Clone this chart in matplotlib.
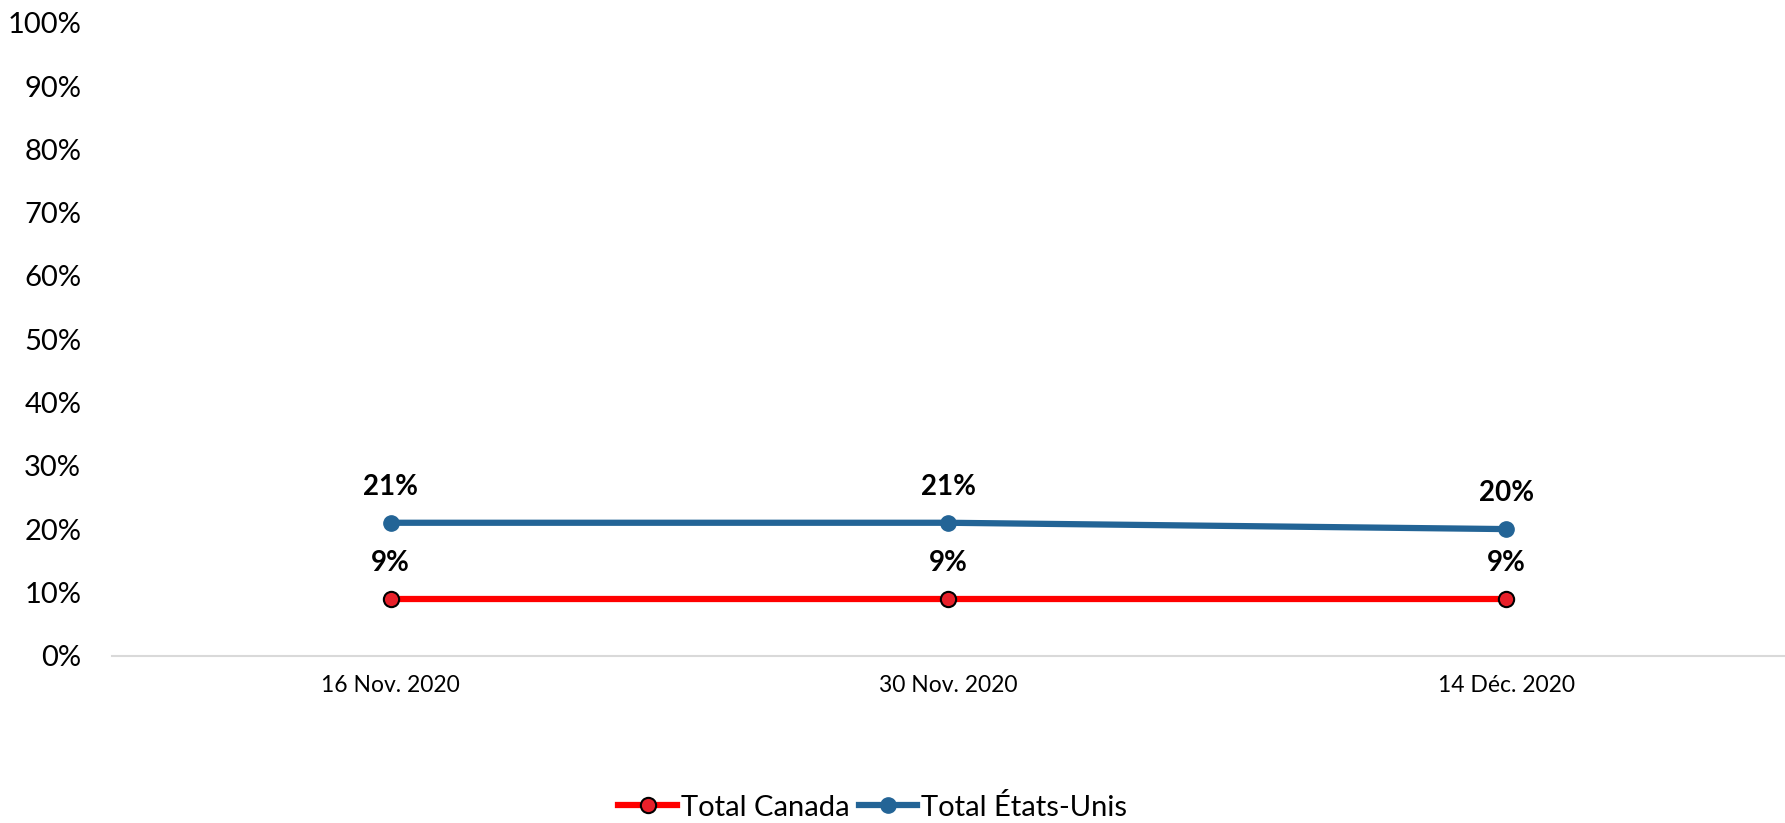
import numpy as np
import matplotlib
matplotlib.use('Agg')
import matplotlib.pyplot as plt
from matplotlib.ticker import FuncFormatter

plt.rcParams['font.family'] = ['Lato', 'DejaVu Sans']

# data
dates = ['16 Nov. 2020', '30 Nov. 2020', '14 Déc. 2020']
canada = [9, 9, 9]
etats_unis = [21, 21, 20]

RED = '#FF0000'
BLUE = '#236496'

fig = plt.figure(figsize=(17.85, 8.23), dpi=100)
ax = fig.add_axes([0.0626, 0.2033, 0.9374, 0.7691])

x = np.arange(len(dates))
ax.plot(x, canada, color=RED, lw=4.5, marker='o', ms=11,
        mfc='#E8202A', mec='black', mew=1.5, label='Total Canada', zorder=3)
ax.plot(x, etats_unis, color=BLUE, lw=4.5, marker='o', ms=11,
        mfc=BLUE, mec=BLUE, label='Total États-Unis', zorder=3)

# bold value labels above each point
for series in (canada, etats_unis):
    for xi, v in zip(x, series):
        ax.annotate(f'{v}%', (xi, v), xytext=(0, 26), textcoords='offset points',
                    ha='center', va='center', fontsize=20, fontweight='bold')

ax.set_xlim(-0.5, len(dates) - 0.5)
ax.set_ylim(0, 100)
ax.set_yticks(np.arange(0, 101, 10))
ax.yaxis.set_major_formatter(FuncFormatter(lambda v, p: f'{v:.0f}%'))
ax.set_xticks(x)
ax.set_xticklabels(dates)
ax.tick_params(axis='y', length=0, pad=22, labelsize=21)
ax.tick_params(axis='x', length=0, pad=14, labelsize=16.5)

for s in ['top', 'right', 'left']:
    ax.spines[s].set_visible(False)
ax.spines['bottom'].set_color('#D9D9D9')
ax.spines['bottom'].set_linewidth(1.5)

fig.legend(loc='center', bbox_to_anchor=(0.489, 0.0194), ncol=2,
           frameon=False, fontsize=21, handlelength=2.0, handletextpad=0.15,
           columnspacing=0.3, borderpad=0)

fig.savefig('out.png', dpi=100)
